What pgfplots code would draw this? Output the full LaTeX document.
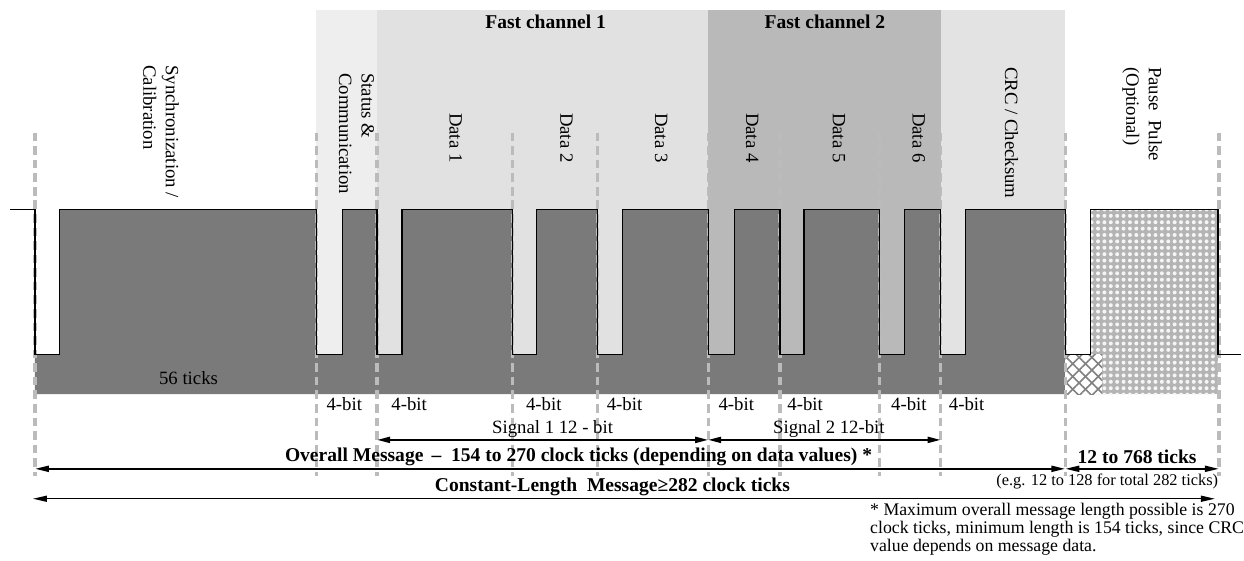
\documentclass[border=0pt]{standalone}
\usepackage{fontspec}
\setmainfont{Liberation Serif}
\usepackage{pgfplots}
\pgfplotsset{compat=1.18}
\usetikzlibrary{arrows.meta,patterns.meta}
\definecolor{darksig}{HTML}{7A7A7A}
\definecolor{stat}{HTML}{EEEEEE}
\definecolor{fcone}{HTML}{E1E1E1}
\definecolor{fctwo}{HTML}{B9B9B9}
\definecolor{crc}{HTML}{E3E3E3}
\definecolor{dash}{HTML}{BBBBBB}
\definecolor{pausebg}{HTML}{B4B4B4}
\tikzset{
  lbl/.style={font=\fontsize{9.4}{11}\selectfont, inner sep=0pt},
  blbl/.style={font=\fontsize{9.8}{11}\selectfont\bfseries, inner sep=0pt},
  vlbl/.style={font=\fontsize{9.4}{11.3}\selectfont, inner sep=0pt, rotate=-90, anchor=west, align=left},
  dl/.style={draw=dash, line width=1.6pt, dash pattern=on 4.3pt off 2.5pt},
}
\begin{document}
\begin{tikzpicture}
\begin{axis}[width=622pt,height=281pt,scale only axis,
  xmin=0,xmax=1244,ymin=0,ymax=562,y dir=reverse,hide axis,clip=false]
\addplot[draw=none] coordinates {(0,0) (1244,562)};
% background regions
\addplot[fill=stat,draw=none] coordinates {(317,10) (378,10) (378,360) (317,360)} -- cycle;
\addplot[fill=fcone,draw=none] coordinates {(378,10) (710,10) (710,360) (378,360)} -- cycle;
\addplot[fill=fctwo,draw=none] coordinates {(710,10) (943,10) (943,360) (710,360)} -- cycle;
\addplot[fill=crc,draw=none] coordinates {(943,10) (1068,10) (1068,360) (943,360)} -- cycle;
% signal fill
\addplot[fill=darksig,draw=none] coordinates {
 (35,355) (60,355) (60,210) (317,210) (317,355) (343,355) (343,210) (378,210)
 (378,355) (403,355) (403,210) (514,210) (514,355) (538,355) (538,210) (599,210)
 (599,355) (624,355) (624,210) (710,210) (710,355) (736,355) (736,210) (782,210)
 (782,355) (806,355) (806,210) (882,210) (882,355) (907,355) (907,210) (943,210)
 (943,355) (968,355) (968,210) (1068,210) (1068,395) (35,395)} -- cycle;
% pause pulse
\addplot[fill=pausebg,draw=none] coordinates {(1093,210) (1221,210) (1221,395) (1093,395)} -- cycle;
\addplot[draw=none,pattern={Dots[radius=1pt,distance=3.2pt]},pattern color=white!92!gray] coordinates {(1093,210) (1221,210) (1221,395) (1093,395)} -- cycle;
\addplot[fill=white,draw=none] coordinates {(1068,355) (1105,355) (1105,395) (1068,395)} -- cycle;
\addplot[draw=none,pattern={Lines[angle=45,distance=4.5pt,line width=0.8pt]},pattern color=gray] coordinates {(1068,355) (1105,355) (1105,395) (1068,395)} -- cycle;
\addplot[draw=none,pattern={Lines[angle=-45,distance=4.5pt,line width=0.8pt]},pattern color=gray] coordinates {(1068,355) (1105,355) (1105,395) (1068,395)} -- cycle;
% dashed lines
\foreach \xx in {35,317,378,514,599,710,782,882,943,1068,1222}{
  \edef\tmp{\noexpand\addplot[dl] coordinates {(\xx,133) (\xx,477)};}\tmp
}
% signal outline
\addplot[black,line width=0.6pt] coordinates {
 (10,210) (35,210) (35,355) (60,355) (60,210) (317,210) (317,355) (343,355) (343,210) (378,210)
 (378,355) (403,355) (403,210) (514,210) (514,355) (538,355) (538,210) (599,210)
 (599,355) (624,355) (624,210) (710,210) (710,355) (736,355) (736,210) (782,210)
 (782,355) (806,355) (806,210) (882,210) (882,355) (907,355) (907,210) (943,210)
 (943,355) (968,355) (968,210) (1068,210) (1068,355) (1093,355) (1093,210) (1221,210)
 (1221,355) (1244,355)};
% arrows
\addplot[black,line width=1pt,arrows={Triangle[length=6.5pt,width=3pt]-Triangle[length=6.5pt,width=3pt]}] coordinates {(378,441) (710,441)};
\addplot[black,line width=1pt,arrows={Triangle[length=6.5pt,width=3pt]-Triangle[length=6.5pt,width=3pt]}] coordinates {(710,441) (943,441)};
\addplot[black,line width=1pt,arrows={Triangle[length=7pt,width=3pt]-Triangle[length=7pt,width=3pt]}] coordinates {(35,470) (1068,470)};
\addplot[black,line width=1pt,arrows={Triangle[length=7pt,width=3pt]-Triangle[length=7pt,width=3pt]}] coordinates {(1068,470) (1222,470)};
\addplot[black,line width=0.7pt,arrows={Triangle[length=7pt,width=3pt]-Triangle[length=7pt,width=3pt]}] coordinates {(33,500) (1218,500)};
% titles
\node[blbl] at (axis cs:547,22) {Fast channel 1};
\node[blbl] at (axis cs:827,22) {Fast channel 2};
% vertical labels
\node[vlbl] at (axis cs:161.5,65) {Synchronization /\\Calibration};
\node[vlbl] at (axis cs:357.5,73) {Status \&\\Communication};
\node[vlbl] at (axis cs:457,113) {Data 1};
\node[vlbl] at (axis cs:568,113) {Data 2};
\node[vlbl] at (axis cs:663,113) {Data 3};
\node[vlbl] at (axis cs:754,113) {Data 4};
\node[vlbl] at (axis cs:841,113) {Data 5};
\node[vlbl] at (axis cs:921,113) {Data 6};
\node[vlbl] at (axis cs:1014,67) {CRC / Checksum};
\node[vlbl] at (axis cs:1145,67) {Pause\ \ Pulse\\(Optional)};
% bottom labels
\node[lbl] at (axis cs:189,379) {56 ticks};
\foreach \xx in {327,392,527,608,720,789,893,951}{
  \edef\tmp{\noexpand\node[lbl,anchor=west] at (axis cs:\xx,405) {4-bit};}\tmp
}
\node[lbl] at (axis cs:554,430) {Signal 1 12 - bit};
\node[lbl] at (axis cs:831,430) {Signal 2 12-bit};
\node[blbl] at (axis cs:580,458) {Overall Message \,\textendash\ \ 154 to 270 clock ticks (depending on data values) *};
\node[blbl] at (axis cs:1140,458) {12 to 768 ticks};
\node[lbl,font=\fontsize{8.2}{10}\selectfont] at (axis cs:1110,483) {(e.g. 12 to 128 for total 282 ticks)};
\node[blbl] at (axis cs:614,488) {Constant-Length\ \ Message≥282 clock ticks};
\node[lbl,font=\fontsize{8.9}{9}\selectfont,anchor=north west,align=left] at (axis cs:872,504) {* Maximum overall message length possible is 270\\clock ticks, minimum length is 154 ticks, since CRC\\value depends on message data.};
\end{axis}
\end{tikzpicture}
\end{document}
